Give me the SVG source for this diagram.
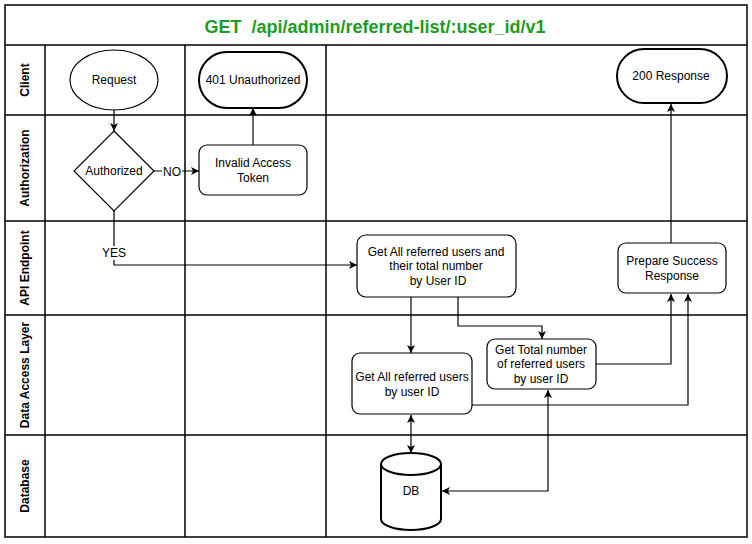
<svg xmlns="http://www.w3.org/2000/svg" width="752" height="544" viewBox="0 0 752 544">
<defs>
<marker id="arr" markerWidth="10" markerHeight="10" refX="8" refY="4" orient="auto" markerUnits="userSpaceOnUse">
<path d="M0,0 L8,4 L0,8 L2,4 z" fill="#000"/>
</marker>
<marker id="arrs" markerWidth="10" markerHeight="10" refX="8" refY="4" orient="auto-start-reverse" markerUnits="userSpaceOnUse">
<path d="M0,0 L8,4 L0,8 L2,4 z" fill="#000"/>
</marker>
</defs>
<style>
.lane{fill:none;stroke:#000;stroke-width:1.5}
.node{fill:#fff;stroke:#000;stroke-width:1.2}
.thick{fill:#fff;stroke:#000;stroke-width:2}
.t{font-family:"Liberation Sans",Arial,sans-serif;font-size:12px;fill:#000;text-anchor:middle}
.lab{font-family:"Liberation Sans",Arial,sans-serif;font-size:12px;font-weight:bold;fill:#000;text-anchor:middle}
.c{fill:none;stroke:#000;stroke-width:1.2}
</style>
<rect width="752" height="544" fill="#fff"/>
<g id="lanes">
<rect class="lane" x="5" y="5" width="742" height="532"/>
<line class="lane" x1="5" y1="45" x2="747" y2="45"/>
<line class="lane" x1="5" y1="115" x2="747" y2="115"/>
<line class="lane" x1="5" y1="221" x2="747" y2="221"/>
<line class="lane" x1="5" y1="315" x2="747" y2="315"/>
<line class="lane" x1="5" y1="435" x2="747" y2="435"/>
<line class="lane" x1="45" y1="45" x2="45" y2="537"/>
<line class="lane" x1="185" y1="45" x2="185" y2="537"/>
<line class="lane" x1="326" y1="45" x2="326" y2="537"/>
<text x="375" y="33" font-family="Liberation Sans,Arial,sans-serif" font-size="18" font-weight="bold" fill="#1e9b24" text-anchor="middle" xml:space="preserve">GET  /api/admin/referred-list/:user_id/v1</text>
<text class="lab" transform="translate(29,80) rotate(-90)">Client</text>
<text class="lab" transform="translate(29,168) rotate(-90)">Authorization</text>
<text class="lab" transform="translate(29,268) rotate(-90)">API Endpoint</text>
<text class="lab" transform="translate(29,375) rotate(-90)">Data Access Layer</text>
<text class="lab" transform="translate(29,486) rotate(-90)">Database</text>
</g>
<g id="connectors">
<path class="c" d="M114,110 L114,131" marker-end="url(#arr)"/>
<path class="c" d="M154,171 L199,171" marker-end="url(#arr)"/>
<path class="c" d="M253,145 L253,108" marker-end="url(#arr)"/>
<path class="c" d="M114,211 L114,265 L357,265" marker-end="url(#arr)"/>
<path class="c" d="M671,243 L671,104" marker-end="url(#arr)"/>
<path class="c" d="M411,297 L411,353" marker-end="url(#arr)"/>
<path class="c" d="M458,297 L458,326 L542,326 L542,339" marker-end="url(#arr)"/>
<path class="c" d="M596,364 L671,364 L671,294" marker-end="url(#arr)"/>
<path class="c" d="M472,405 L688,405 L688,294" marker-end="url(#arr)"/>
<path class="c" d="M411,415 L411,453" marker-start="url(#arrs)" marker-end="url(#arr)"/>
<path class="c" d="M548,390 L548,491 L442,491" marker-start="url(#arrs)" marker-end="url(#arr)"/>
<rect x="162" y="164" width="20" height="14" fill="#fff"/>
<text class="t" x="172" y="176">NO</text>
<rect x="102" y="246" width="25" height="14" fill="#fff"/>
<text class="t" x="114" y="257">YES</text>
</g>
<g id="request">
<ellipse class="node" cx="114" cy="80" rx="44" ry="30"/>
<text class="t" x="114" y="84">Request</text>
</g>
<g id="unauthorized">
<rect class="thick" x="199" y="52" width="108" height="56" rx="28"/>
<text class="t" x="253" y="84">401 Unauthorized</text>
</g>
<g id="response200">
<rect class="thick" x="617" y="49" width="110" height="54" rx="27"/>
<text class="t" x="671" y="80">200 Response</text>
</g>
<g id="authorized">
<path class="node" d="M114,131 L154,171 L114,211 L74,171 z"/>
<text class="t" x="114" y="175">Authorized</text>
</g>
<g id="invalid">
<rect class="node" x="199" y="145" width="108" height="50" rx="8"/>
<text class="t" x="253" y="167">Invalid Access</text>
<text class="t" x="253" y="182">Token</text>
</g>
<g id="getall-api">
<rect class="node" x="357" y="235" width="159" height="62" rx="9"/>
<text class="t" x="436" y="256">Get All referred users and</text>
<text class="t" x="436" y="270">their total number</text>
<text class="t" x="438" y="285">by User ID</text>
</g>
<g id="prepare">
<rect class="node" x="618" y="243" width="108" height="50" rx="8"/>
<text class="t" x="672" y="265">Prepare Success</text>
<text class="t" x="672" y="280">Response</text>
</g>
<g id="getall-dal">
<rect class="node" x="352" y="353" width="120" height="61" rx="8"/>
<text class="t" x="412" y="381">Get All referred users</text>
<text class="t" x="412" y="396">by user ID</text>
</g>
<g id="gettotal">
<rect class="node" x="487" y="339" width="109" height="50" rx="8"/>
<text class="t" x="541" y="354">Get Total number</text>
<text class="t" x="541" y="368">of referred users</text>
<text class="t" x="541" y="383">by user ID</text>
</g>
<g id="db">
<path class="thick" d="M381,464 L381,519 A30,11 0 0 0 441,519 L441,464 A30,11 0 0 0 381,464 z"/>
<path class="thick" fill="none" d="M381,464 A30,11 0 0 0 441,464"/>
<text class="t" x="411" y="495">DB</text>
</g>
</svg>
